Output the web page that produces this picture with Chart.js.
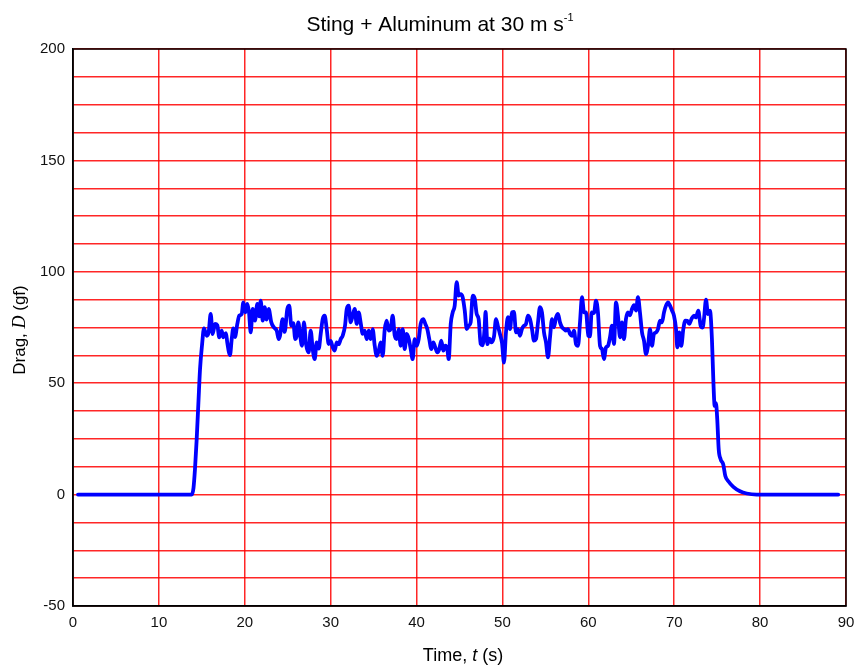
<!DOCTYPE html>
<html>
<head>
<meta charset="utf-8">
<script src="https://cdn.jsdelivr.net/npm/chart.js@4.4.1/dist/chart.umd.min.js"></script>
<style>
  html, body { margin: 0; padding: 0; background: #fff; }
  #wrap { width: 859px; height: 669px; position: relative; }
</style>
</head>
<body>
<div id="wrap"><canvas id="graficoDrag"></canvas></div>
<script>
// dados: tempo (s) e arrasto (gf)
const tempos = [
  0.58, 13.82, 14.03, 14.20, 14.40, 14.61, 14.79, 15.02, 15.25, 15.57, 15.80, 16.03, 16.26, 16.53, 16.80,
  17.03, 17.31, 17.50, 17.81, 17.96, 18.28, 18.48, 18.66, 18.86, 19.13, 19.36, 19.64, 19.83, 20.06, 20.29,
  20.49, 20.69, 20.92, 21.19, 21.46, 21.69, 21.85, 22.09, 22.32, 22.55, 22.78, 23.09, 23.40, 23.72, 23.95,
  24.10, 24.41, 24.64, 24.95, 25.18, 25.42, 25.65, 25.88, 26.05, 26.23, 26.43, 26.66, 26.89, 27.13, 27.44,
  27.67, 27.91, 28.14, 28.37, 28.61, 28.84, 29.07, 29.30, 29.54, 29.77, 30.00, 30.24, 30.47, 30.70, 30.94,
  31.17, 31.40, 31.67, 31.87, 32.10, 32.33, 32.56, 32.80, 33.03, 33.26, 33.50, 33.73, 33.96, 34.20, 34.43,
  34.66, 34.89, 35.13, 35.36, 35.59, 35.82, 36.06, 36.29, 36.52, 36.76, 36.99, 37.22, 37.46, 37.69, 37.92,
  38.15, 38.39, 38.62, 38.85, 39.09, 39.32, 39.55, 39.78, 40.02, 40.25, 40.48, 40.78, 41.02, 41.25, 41.48,
  41.72, 41.95, 42.18, 42.42, 42.65, 42.88, 43.11, 43.35, 43.58, 43.74, 43.98, 44.21, 44.44, 44.67, 44.91,
  45.14, 45.37, 45.61, 45.84, 46.07, 46.30, 46.54, 46.77, 47.00, 47.23, 47.47, 47.70, 47.93, 48.03, 48.26,
  48.49, 48.74, 49.02, 49.25, 49.48, 49.71, 49.95, 50.18, 50.41, 50.64, 50.88, 51.11, 51.34, 51.58, 51.81,
  52.04, 52.27, 52.51, 52.74, 52.97, 53.21, 53.44, 53.67, 53.91, 54.14, 54.37, 54.60, 54.84, 55.07, 55.30,
  55.54, 55.77, 56.00, 56.24, 56.47, 56.70, 56.93, 57.17, 57.40, 57.63, 57.87, 58.10, 58.33, 58.56, 58.80,
  59.03, 59.26, 59.50, 59.73, 60.00, 60.19, 60.39, 60.66, 60.89, 61.12, 61.36, 61.59, 61.82, 62.05, 62.29,
  62.52, 62.75, 62.99, 63.22, 63.45, 63.69, 63.92, 64.15, 64.38, 64.62, 64.85, 65.08, 65.32, 65.55, 65.78,
  66.01, 66.25, 66.48, 66.71, 66.95, 67.18, 67.41, 67.64, 67.88, 68.11, 68.34, 68.58, 68.81, 69.04, 69.28,
  69.51, 69.74, 69.97, 70.21, 70.36, 70.59, 70.82, 71.06, 71.29, 71.52, 71.76, 72.03, 72.30, 72.53, 72.80,
  73.08, 73.31, 73.47, 73.70, 73.93, 74.16, 74.39, 74.55, 74.71, 74.86, 75.01, 75.18, 75.41, 75.71, 75.95,
  76.30, 76.88, 77.66, 78.44, 79.60, 89.10
];
const arrasto = [
  0, 0, 3, 11.3, 24.8, 42, 56.3, 67, 74.6, 71.3, 73, 81.1, 72, 76.6, 76,
  70.6, 73.6, 70.6, 72.5, 68.3, 62.6, 69.8, 74.6, 70.7, 76.6, 80.3, 81, 86.3, 81.8, 85.6,
  82, 72.8, 83.3, 78.1, 85.6, 80, 87.1, 78.1, 84.1, 78.5, 83.3, 77.3, 75, 73.6, 69.8,
  71.3, 78.8, 73, 83.3, 84.8, 75.8, 77, 69.8, 71.3, 77.3, 72, 66.8, 77.3, 67.6, 63.8,
  73.6, 65.3, 60.8, 68.3, 65.5, 72.1, 78.8, 80.3, 74.3, 67.6, 69, 66.1, 64.6, 68.3, 67.5,
  69.8, 71.3, 75.8, 83.3, 84.8, 77.3, 80.3, 83.3, 76.6, 81.8, 77, 72.1, 73.6, 69.8, 73.6,
  69.8, 74.3, 66.8, 62.3, 64.5, 68.3, 62.3, 74, 78.1, 73.6, 74.5, 80.3, 71.3, 69.8, 74.3,
  66.8, 74.3, 65.3, 72.1, 70, 65.3, 60.8, 69.8, 66.8, 69.8, 76.6, 78.8, 76.6, 74.3, 69.8,
  65.3, 68.3, 66.1, 63.8, 65.3, 69.1, 64.6, 66.8, 65.3, 60.8, 76.6, 81.8, 84.8, 95.3, 89.3,
  90, 88.6, 82.6, 74.3, 75.8, 77.3, 89.3, 88, 81.1, 78.8, 67.6, 67, 75.1, 82, 67.5,
  70, 68.3, 71, 78.8, 75.5, 72.1, 68, 59.3, 72.8, 79.6, 74.3, 81.8, 82, 72.8, 74.3,
  71.3, 74.3, 75.8, 76.6, 80.3, 78.8, 74.3, 69.1, 69.8, 77.3, 84.1, 81.8, 72.8, 68.3, 61.6,
  70.6, 78.8, 75.1, 79.6, 81.1, 77.3, 75.1, 74.3, 73.6, 74.3, 72.1, 71.3, 73.6, 67.6, 66.8,
  77.3, 88.6, 81.8, 81.8, 71.3, 71, 81.8, 81.5, 87.1, 81.8, 66.8, 65.3, 60.8, 66, 66.8,
  70.6, 75.8, 67.6, 86.3, 80.3, 70.6, 77.3, 69.8, 78.8, 81.8, 80.5, 83.3, 85, 82.6, 88.6,
  81.8, 72.8, 69.1, 63.1, 66.8, 74.3, 66.8, 72.1, 72.8, 74.3, 78.1, 77.3, 81.8, 84.8, 86.3,
  84.8, 82.6, 80.3, 74.3, 66.1, 72.8, 66.8, 74.3, 78.1, 78, 76.6, 79, 80.3, 79.5, 82.6,
  75.8, 75, 79, 87.5, 81, 82.6, 69.8, 51.8, 39.8, 41, 33.8, 20.3, 15.8, 13.5, 8.3,
  6, 3.5, 1.5, 0.5, 0, 0
];

const titulo = [
  { text: "Sting + Aluminum at 30 m s", font: "21px 'Liberation Sans', Arial, sans-serif", dy: 0 },
  { text: "-1", font: "11px 'Liberation Sans', Arial, sans-serif", dy: -7 }
];
const tituloX = [
  { text: "Time, ", font: "18px 'Liberation Sans', Arial, sans-serif", dy: 0 },
  { text: "t", font: "italic 18px 'Liberation Sans', Arial, sans-serif", dy: 0 },
  { text: " (s)", font: "18px 'Liberation Sans', Arial, sans-serif", dy: 0 }
];
const tituloY = [
  { text: "Drag, ", font: "17px 'Liberation Sans', Arial, sans-serif", dy: 0 },
  { text: "D", font: "italic 18px 'Liberation Serif', 'Times New Roman', serif", dy: 0 },
  { text: " (gf)", font: "17px 'Liberation Sans', Arial, sans-serif", dy: 0 }
];

function desenharTexto(ctx, segs, x, y, angulo) {
  ctx.save();
  ctx.translate(x, y);
  ctx.rotate(angulo || 0);
  ctx.textBaseline = "middle";
  ctx.textAlign = "left";
  ctx.fillStyle = "#000";
  let total = 0;
  segs.forEach(s => { ctx.font = s.font; total += ctx.measureText(s.text).width; });
  let cx = -total / 2;
  segs.forEach(s => {
    ctx.font = s.font;
    ctx.fillText(s.text, cx, s.dy);
    cx += ctx.measureText(s.text).width;
  });
  ctx.restore();
}

// moldura preta e textos
const pluginMoldura = {
  id: "moldura",
  afterDraw(chart) {
    const { ctx, chartArea: a } = chart;
    ctx.save();
    ctx.strokeStyle = "#000";
    ctx.lineWidth = 1.5;
    ctx.strokeRect(a.left, a.top, a.right - a.left, a.bottom - a.top);
    ctx.restore();
    desenharTexto(ctx, titulo, 440, 25, 0);
    desenharTexto(ctx, tituloX, 463, 656, 0);
    desenharTexto(ctx, tituloY, 20, 330, -Math.PI / 2);
  }
};

const pontos = tempos.map((t, i) => ({ x: t, y: arrasto[i] }));
const fonteTicks = { family: "'Liberation Sans', Arial, sans-serif", size: 15 };

const ctx = document.getElementById("graficoDrag").getContext("2d");
new Chart(ctx, {
  type: "line",
  data: {
    datasets: [{
      label: "Drag",
      data: pontos,
      borderColor: "#0000ff",
      backgroundColor: "#0000ff",
      borderWidth: 3.8,
      borderJoinStyle: "round",
      borderCapStyle: "round",
      pointRadius: 0,
      cubicInterpolationMode: "monotone",
      fill: false
    }]
  },
  options: {
    responsive: true,
    maintainAspectRatio: false,
    animation: false,
    layout: { padding: { top: 49, right: 13, left: 0, bottom: 0 } },
    plugins: {
      legend: { display: false },
      title: { display: false },
      tooltip: { enabled: false }
    },
    scales: {
      x: {
        type: "linear",
        min: 0,
        max: 90,
        ticks: { stepSize: 10, color: "#111", font: fonteTicks, padding: 8, maxRotation: 0 },
        grid: { color: "rgba(255,0,0,0.85)", lineWidth: 1.5, drawTicks: false },
        border: { display: true, color: "#000", width: 1.5 },
        afterFit: s => { s.height = 63; s.paddingRight = 0; s.paddingLeft = 0; }
      },
      y: {
        min: -50,
        max: 200,
        ticks: {
          stepSize: 12.5,
          color: "#111",
          font: fonteTicks,
          padding: 8,
          autoSkip: false,
          callback: v => (v % 50 === 0 ? v : "")
        },
        grid: { color: "rgba(255,0,0,0.85)", lineWidth: 1.5, drawTicks: false },
        border: { display: true, color: "#000", width: 1.5 },
        afterFit: s => { s.width = 73; }
      }
    }
  },
  plugins: [pluginMoldura]
});
</script>
</body>
</html>
